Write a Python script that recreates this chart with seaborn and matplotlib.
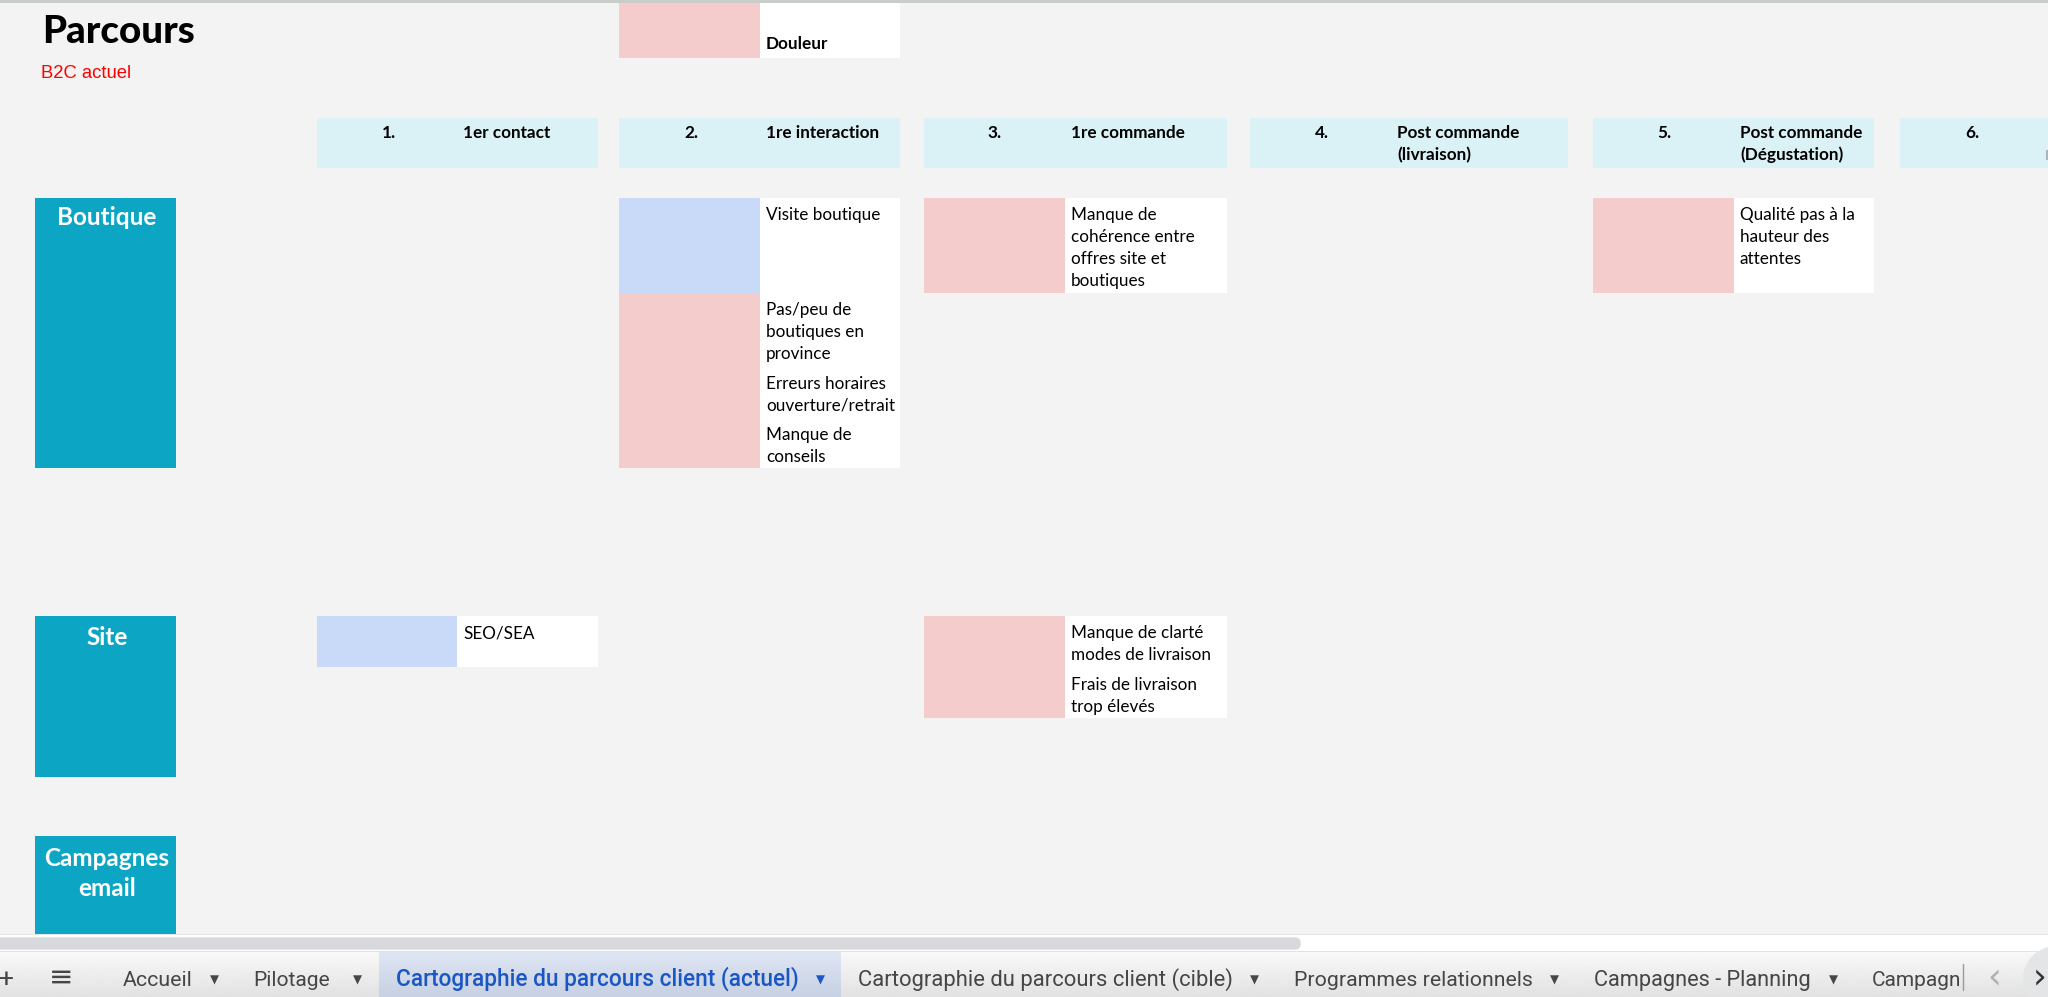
import matplotlib
matplotlib.use("Agg")
import matplotlib.pyplot as plt
import numpy as np
import seaborn as sns
from matplotlib.patches import Circle, FancyBboxPatch

# Sheet content
STEP_NUMBERS = ["1.", "2.", "3.", "4.", "5.", "6."]
STEP_LABELS = [
    ["1er contact"],
    ["1re interaction"],
    ["1re commande"],
    ["Post commande", "(livraison)"],
    ["Post commande", "(Dégustation)"],
    [],
]
ROW_NAMES = [["Boutique"], ["Site"], ["Campagnes", "email"]]
LEGEND_LABEL = "Douleur"

CELL_STEPS = [1, 1, 2, 4, 0, 2]
CELL_KINDS = ["touch", "pain", "pain", "pain", "touch", "pain"]
CELL_TEXTS = [
    [["Visite boutique"]],
    [["Pas/peu de", "boutiques en", "province"], ["Erreurs horaires", "ouverture/retrait"], ["Manque de", "conseils"]],
    [["Manque de", "cohérence entre", "offres site et", "boutiques"]],
    [["Qualité pas à la", "hauteur des", "attentes"]],
    [["SEO/SEA"]],
    [["Manque de clarté", "modes de livraison"], ["Frais de livraison", "trop élevés"]],
]

TABS = ["Accueil", "Pilotage", "Cartographie du parcours client (actuel)",
        "Cartographie du parcours client (cible)", "Programmes relationnels",
        "Campagnes - Planning", "Campagn"]

# Layout in screen pixels, separate from the content above
STEP_LEFT = [317, 619, 924, 1250, 1593, 1900]
STEP_SPLIT = [457, 760, 1065, 1391, 1734, 2041]
STEP_RIGHT = [598, 900, 1227, 1568, 1874, 2048]
NUMBER_X = [389, 691, 995, 1322, 1664, 1972]
ROW_TOP = [198, 616, 836]
ROW_BOTTOM = [468, 777, 934]
ROW_BASELINES = [[225], [645], [866, 896]]
CELL_TOP = [198, 293, 198, 198, 616, 616]
CELL_BOTTOM = [293, 468, 293, 293, 667, 718]
TAB_X = [123, 253, 396, 858, 1294, 1594, 1872]
TAB_RIGHT = [193, 330, 799, 1233, 1533, 1811, 1961]
CARET_X = [214, 357, 820, 1254, 1554, 1833]

BG = "#f3f3f3"
COLORS = {"pain": "#f4cccc", "touch": "#c9daf8", "header": "#daf1f6", "row": "#0ca6c4"}

sns.set_theme(style="white", rc={"figure.facecolor": BG, "axes.facecolor": BG})
plt.rcParams["font.family"] = ["Lato", "DejaVu Sans"]

fig = plt.figure(figsize=(20.48, 9.97), dpi=100)
ax = fig.add_axes([0, 0, 1, 1])


def block(x0, x1, y0, y1, color):
    # one filled rectangle, drawn as a single horizontal bar
    sns.barplot(x=[x1 - x0], y=[(y0 + y1) / 2], orient="h", native_scale=True,
                width=y1 - y0, left=x0, color=color, saturation=1,
                errorbar=None, linewidth=0, ax=ax)


def body(x, y, s, **kw):
    ax.text(x, y, s, va="baseline", color="black", **{"fontsize": 12.3, **kw})


# Legend cell cut by the top edge
block(STEP_LEFT[1], STEP_SPLIT[1], 0, 58, COLORS["pain"])
block(STEP_SPLIT[1], STEP_RIGHT[1], 0, 58, "white")
body(766, 49, LEGEND_LABEL, fontweight="bold")
block(0, 2048, 0, 3, "#c8cdca")

ax.text(42, 43, "Parcours", fontsize=27.7, fontweight="black", va="baseline", color="black")
ax.text(41, 78, "B2C actuel", fontsize=13.3, family="Liberation Sans", va="baseline", color="#ff0000")

# Step headers
for i, number in enumerate(STEP_NUMBERS):
    block(STEP_LEFT[i], STEP_RIGHT[i], 118, 168, COLORS["header"])
    ax.text(NUMBER_X[i], 138, number, ha="center", fontsize=12.3, fontweight="bold", va="baseline", color="black")
    for j, line in enumerate(STEP_LABELS[i]):
        body(STEP_SPLIT[i] + 6, 138 + j * 22, line, fontweight="bold")
block(2046, 2048, 150, 160, "#aab4b7")  # first pixels of the label that runs off screen

# Channel rows
for name, top, bottom, baselines in zip(ROW_NAMES, ROW_TOP, ROW_BOTTOM, ROW_BASELINES):
    block(35, 176, top, bottom, COLORS["row"])
    for line, y in zip(name, baselines):
        ax.text(107, y, line, ha="center", fontsize=17.5, fontweight="bold", va="baseline", color="white")

# Cells of the map
for step, kind, paragraphs, top, bottom in zip(CELL_STEPS, CELL_KINDS, CELL_TEXTS, CELL_TOP, CELL_BOTTOM):
    block(STEP_LEFT[step], STEP_SPLIT[step], top, bottom, COLORS[kind])
    block(STEP_SPLIT[step], STEP_RIGHT[step], top, bottom, "white")
    y = top + 22
    for paragraph in paragraphs:
        for line in paragraph:
            body(STEP_SPLIT[step] + 6, y, line)
            y += 22
        y += 7.5

# Scrollbar strip
block(0, 2048, 934, 952, "white")
ax.add_patch(FancyBboxPatch((-20, 938), 1320, 11, boxstyle="round,pad=0,rounding_size=5", fc="#d8d9dd", ec="#d8d9dd", lw=1))
block(0, 2048, 933.5, 934.5, "#e6e6e6")
block(0, 2048, 951, 952, "#e2e2e2")

# Tab bar, browser-like shading
shade = np.linspace(0.975, 0.885, 64).reshape(-1, 1)
ax.imshow(shade, extent=(0, 2048, 997, 952), cmap="gray", vmin=0, vmax=1, aspect="auto", zorder=1)
shade_tab = np.stack([np.linspace(0.875, 0.78, 64), np.linspace(0.90, 0.82, 64), np.linspace(0.955, 0.89, 64)], axis=1).reshape(-1, 1, 3)
ax.imshow(shade_tab, extent=(379, 841, 997, 952), aspect="auto", zorder=1.1)

renderer = fig.canvas.get_renderer()
for i, (tab, x, right) in enumerate(zip(TABS, TAB_X, TAB_RIGHT)):
    active = i == 2
    label = ax.text(x, 986, tab, fontsize=16, family="Roboto", va="baseline", zorder=2,
                    color="#1a56c4" if active else "#444746", fontweight="medium" if active else "normal")
    # the browser tab font runs a bit wider, so fit each label to its tab
    label.set_fontsize(16 * (right - x) / label.get_window_extent(renderer).width)
for i, x in enumerate(CARET_X):
    ax.text(x, 984, "▼", fontsize=8.5, family="DejaVu Sans", ha="center", va="baseline", zorder=2,
            color="#1a56c4" if i == 2 else "#444746")
ax.text(7, 987, "+", fontsize=19, family="Roboto", ha="center", va="baseline", color="#444746", zorder=2)
ax.text(61, 986, "≡", fontsize=21, family="DejaVu Sans", ha="center", va="baseline", color="#444746", zorder=2)
ax.plot([1963, 1963], [964, 990], color="#9a9a9a", lw=1, zorder=2)
ax.text(1994, 988, "‹", fontsize=25, family="DejaVu Sans", ha="center", va="baseline", color="#b0b0b0", zorder=2)
ax.add_patch(Circle((2056, 979), 33, fc="#e4e5e7", ec="none", zorder=1.5))
ax.text(2040, 988, "›", fontsize=25, family="DejaVu Sans", ha="center", va="baseline", color="#333333", zorder=2)

ax.set_xlim(0, 2048)
ax.set_ylim(997, 0)
ax.set_xlabel("")
ax.set_ylabel("")
ax.set_axis_off()
fig.savefig("out.png", dpi=100, facecolor=BG)
